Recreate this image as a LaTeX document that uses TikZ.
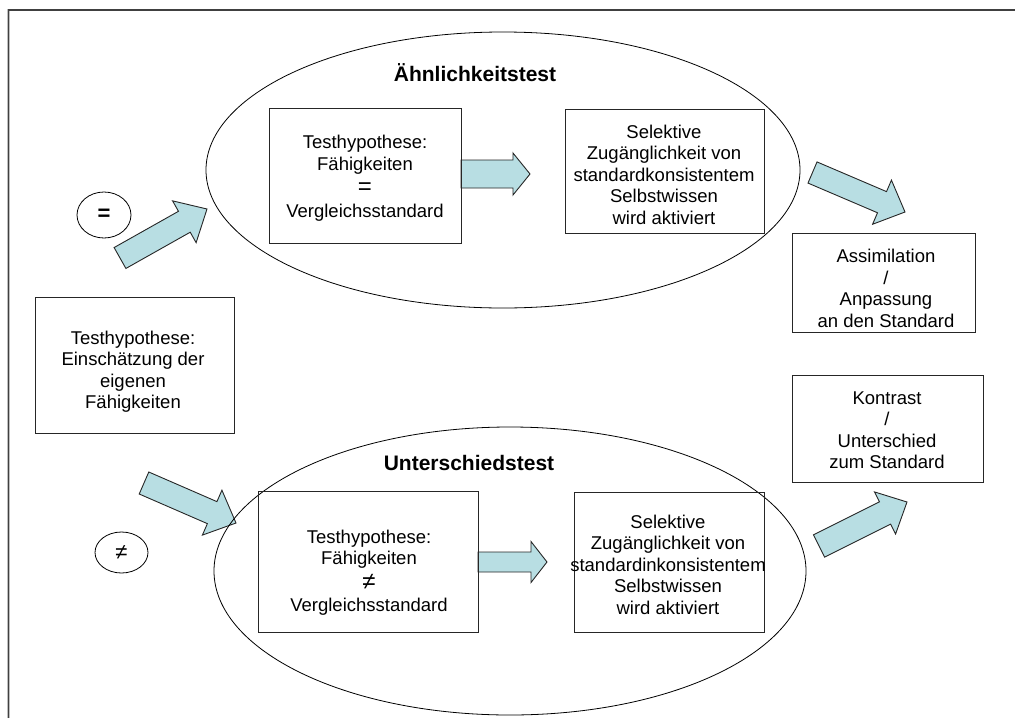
\documentclass[tikz,border=0pt]{standalone}
\usepackage{fontspec}
\setmainfont{Liberation Sans}
\usetikzlibrary{calc,shapes.geometric}
\definecolor{arrfill}{RGB}{184,222,227}
\tikzset{
  box/.style={draw=black!85, line width=0.9pt, rectangle, inner sep=0pt},
  txt/.style={align=center, font=\fontsize{18.5}{21.5}\selectfont, inner sep=0pt},
  oval/.style={draw=black, line width=0.8pt, ellipse, inner sep=0pt},
  barrow/.style={draw=black!85, fill=arrfill, line width=0.9pt, line join=miter},
  ttl/.style={font=\fontsize{21}{24}\selectfont\bfseries, inner sep=0pt},
  sym/.style={font=\fontsize{22}{22}\selectfont, inner sep=0pt},
}
\newcommand\blockarr[6]{%
  \coordinate (#1t) at (#2);
  \coordinate (#1h) at (#3);
  \coordinate (#1b) at ($(#1h)!#6!(#1t)$);
  \draw[barrow] ($(#1t)!#4!90:(#1h)$) -- ($(#1b)!#4!-90:(#1t)$) -- ($(#1b)!#5!-90:(#1t)$)
     -- (#1h) -- ($(#1b)!#5!90:(#1t)$) -- ($(#1b)!#4!90:(#1t)$) -- ($(#1t)!#4!-90:(#1h)$) -- cycle;
}
\begin{document}
\begin{tikzpicture}[x=1pt,y=-1pt]
\useasboundingbox (0,0) rectangle (1015,718);
% frame
\draw[black!25, line width=2.6pt] (8.5,718) -- (8.5,10) -- (1015,10);
\draw[black!75, line width=1.2pt] (8.5,718) -- (8.5,10) -- (1015,10);

% block arrows
\blockarr{aA}{120,258}{207,209}{12pt}{24pt}{26pt}
\blockarr{aB}{461,174}{530,174}{14pt}{21pt}{17pt}
\blockarr{aC}{812.5,172.5}{905,212}{11.5pt}{24pt}{25pt}
\blockarr{aD}{144,483}{236,523}{12pt}{24.5pt}{26pt}
\blockarr{aE}{478,562}{547,562}{10pt}{20.5pt}{16pt}
\blockarr{aF}{819,546}{907,502}{12.5pt}{23.5pt}{24.5pt}

% large ellipses
\node[oval, minimum width=594pt, minimum height=276pt] (E1) at (503,170) {};
\node[oval, minimum width=592pt, minimum height=288pt] (E2) at (510,571) {};
\node[ttl] (T1) at (475,73) {Ähnlichkeitstest};
\node[ttl] (T2) at (469,463) {Unterschiedstest};

% small ellipses
\node[oval, minimum width=54pt, minimum height=46pt] (eq) at (104,215) {};
\node[sym, font=\fontsize{22}{22}\selectfont\bfseries] (eqs) at (104,215) {=};
\node[oval, minimum width=53pt, minimum height=41pt] (ne) at (121.5,552.5) {};
\node[sym] (nes) at (121.5,552.5) {≠};

% boxes
\node[box, minimum width=192pt, minimum height=135pt] (b1) at (365,175.5) {};
\node[txt] (t1) at (365,178) {Testhypothese:\\Fähigkeiten\\[3pt]{\fontsize{24}{24}\selectfont =}\\[1pt]Vergleichsstandard};

\node[box, minimum width=199pt, minimum height=124pt] (b2) at (664.5,171) {};
\node[txt] (t2) at (664,174.5) {Selektive\\Zugänglichkeit von\\standardkonsistentem\\Selbstwissen\\wird aktiviert};

\node[box, minimum width=199pt, minimum height=136pt] (b0) at (134.5,365) {};
\node[txt] (t0) at (133,371.5) {Testhypothese:\\Einschätzung der\\eigenen\\Fähigkeiten};

\node[box, minimum width=183pt, minimum height=99pt] (bA) at (883.5,282.5) {};
\node[txt] (tA) at (886,288.5) {Assimilation\\/\\Anpassung\\an den Standard};

\node[box, minimum width=191pt, minimum height=107pt] (bK) at (887.5,428.5) {};
\node[txt] (tK) at (887,430) {Kontrast\\/\\Unterschied\\zum Standard};

\node[box, minimum width=220pt, minimum height=141pt] (b3) at (368,561.5) {};
\node[txt] (t3) at (369,572.5) {Testhypothese:\\Fähigkeiten\\[3pt]{\fontsize{24}{24}\selectfont ≠}\\[1pt]Vergleichsstandard};

\node[box, minimum width=190pt, minimum height=140pt] (b4) at (669,562) {};
\node[txt] (t4) at (668,564.5) {Selektive\\Zugänglichkeit von\\standardinkonsistentem\\Selbstwissen\\wird aktiviert};
\end{tikzpicture}
\end{document}
